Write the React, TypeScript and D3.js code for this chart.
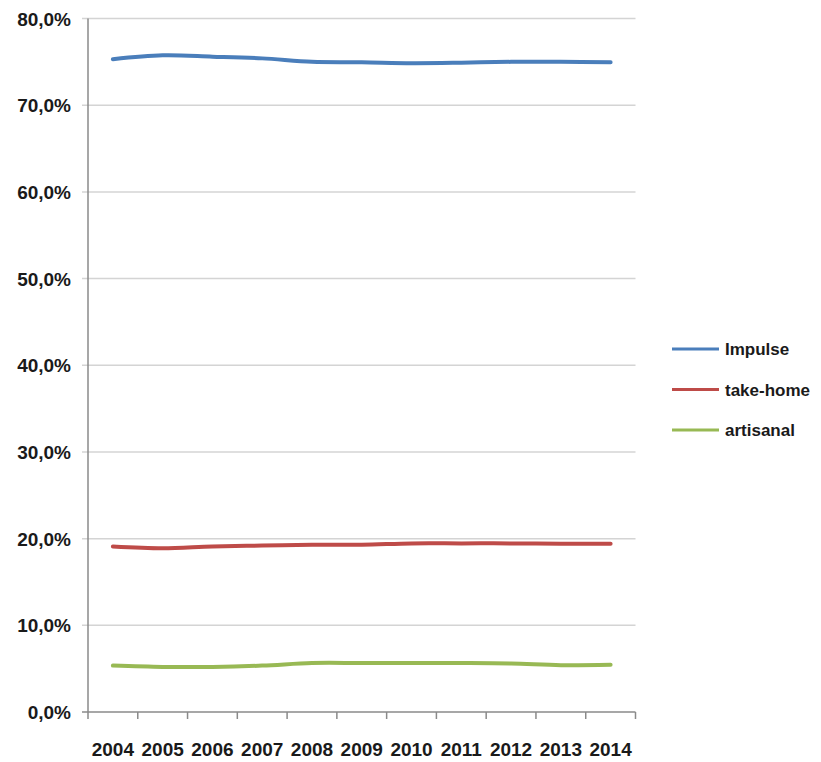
import React from "react";
import * as d3 from "d3";

const years = ["2004", "2005", "2006", "2007", "2008", "2009", "2010", "2011", "2012", "2013", "2014"];
const impulse = [75.3, 75.75, 75.6, 75.4, 75.0, 74.95, 74.85, 74.9, 75.0, 75.0, 74.95];
const takeHome = [19.1, 18.9, 19.1, 19.2, 19.3, 19.3, 19.45, 19.45, 19.45, 19.4, 19.4];
const artisanal = [5.35, 5.2, 5.2, 5.35, 5.65, 5.65, 5.65, 5.65, 5.6, 5.4, 5.45];
const yTicks = [0, 10, 20, 30, 40, 50, 60, 70, 80];

const seriesList = [
  { name: "Impulse", values: impulse, color: "#4A7EBB" },
  { name: "take-home", values: takeHome, color: "#BE4B48" },
  { name: "artisanal", values: artisanal, color: "#98B954" },
];

const W = 821;
const H = 762;
const left = 88;
const right = 635.5;
const top = 18.5;
const bottom = 712;

export default function App() {
  const x = d3.scaleBand<string>().domain(years).range([left, right]);
  const y = d3.scaleLinear().domain([0, 80]).range([bottom, top]);
  const cx = (yr: string) => (x(yr) as number) + x.bandwidth() / 2;

  const line = d3
    .line<number>()
    .x((_, i) => cx(years[i]))
    .y((v) => y(v))
    .curve(d3.curveCatmullRom.alpha(0.5));

  const fmt = (v: number) => v.toFixed(1).replace(".", ",") + "%";
  const font = "'Liberation Sans', Arial, sans-serif";

  return (
    <svg
      width={W}
      height={H}
      style={{ position: "absolute", left: 0, top: 0, background: "#fff" }}
      fontFamily={font}
    >
      {/* horizontal gridlines */}
      {yTicks.map((t) => (
        <g key={t}>
          <line
            x1={left - 6}
            x2={right}
            y1={y(t)}
            y2={y(t)}
            stroke={t === 0 ? "#8a8a8a" : "#d4d4d4"}
            strokeWidth={1.5}
          />
          <text
            x={71}
            y={y(t) + 7}
            textAnchor="end"
            fontSize={19}
            fontWeight="bold"
            fill="#1a1a1a"
          >
            {fmt(t)}
          </text>
        </g>
      ))}
      {/* y axis */}
      <line x1={left} x2={left} y1={top} y2={bottom} stroke="#8a8a8a" strokeWidth={1.5} />
      {/* x ticks */}
      {[...years.map((yr) => x(yr) as number), right].map((px, i) => (
        <line key={i} x1={px} x2={px} y1={bottom} y2={bottom + 7} stroke="#8a8a8a" strokeWidth={1.5} />
      ))}
      {years.map((yr) => (
        <text
          key={yr}
          x={cx(yr)}
          y={756}
          textAnchor="middle"
          fontSize={19}
          fontWeight="bold"
          fill="#1a1a1a"
        >
          {yr}
        </text>
      ))}
      {/* series */}
      {seriesList.map((s) => (
        <path
          key={s.name}
          d={line(s.values) || ""}
          fill="none"
          stroke={s.color}
          strokeWidth={4}
          strokeLinecap="round"
          strokeLinejoin="round"
        />
      ))}
      {/* legend */}
      {seriesList.map((s, i) => (
        <g key={s.name} transform={`translate(672, ${349 + i * 40.5})`}>
          <line x1={0} x2={47} y1={0} y2={0} stroke={s.color} strokeWidth={3} />
          <text x={53} y={6} fontSize={17} fontWeight="bold" fill="#1a1a1a">
            {s.name}
          </text>
        </g>
      ))}
    </svg>
  );
}
